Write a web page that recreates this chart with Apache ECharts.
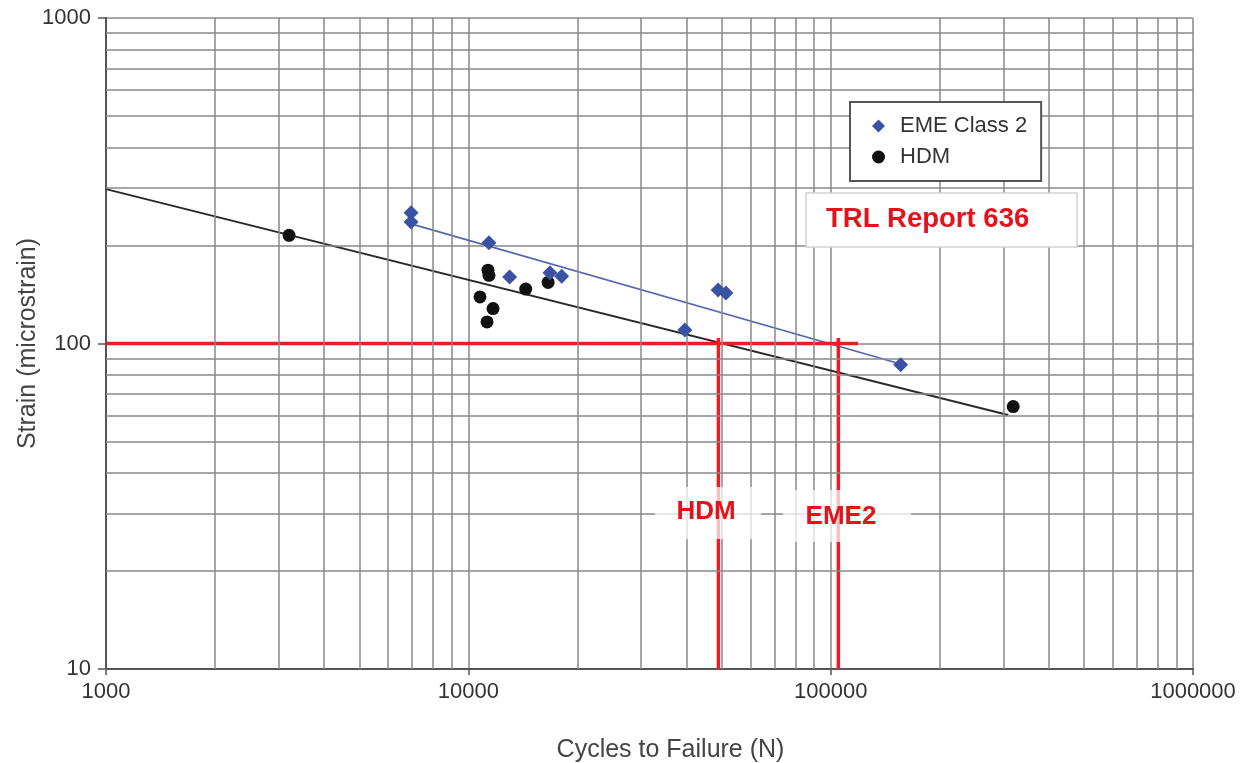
<!DOCTYPE html>
<html>
<head>
<meta charset="utf-8">
<title>Strain vs Cycles to Failure</title>
<script src="https://cdn.jsdelivr.net/npm/echarts@6/dist/echarts.min.js"></script>
<style>
  html, body { margin: 0; padding: 0; background: #fff; }
  #chart { width: 1254px; height: 763px; }
</style>
</head>
<body>
<div id="chart"></div>
<script>
// Fatigue test results: cycles to failure (N) against tensile strain (microstrain)
const emeClass2 = [
  [6950, 252], [6950, 236], [11400, 204], [13000, 160], [16800, 165],
  [18100, 161], [48900, 146], [51400, 143], [39600, 110], [156000, 86]
];
const hdm = [
  [3200, 215], [11330, 168], [11400, 162], [10770, 139], [11700, 128],
  [11260, 116.5], [14400, 147], [16600, 154], [319000, 64]
];

// Fitted fatigue lines
const hdmFit = [[1000, 298], [309000, 60.3]];
const emeFit = [[6950, 233], [156000, 86.5]];

// Design strain of 100 microstrain and the corresponding lives
const designStrain = [[1000, 100], [119000, 100]];
const hdmLife = [[49000, 10], [49000, 104]];
const eme2Life = [[105000, 10], [105000, 104]];

// Minor log gridlines
const xMinor = [2000, 3000, 4000, 5000, 6000, 7000, 8000, 9000,
  20000, 30000, 40000, 50000, 60000, 70000, 80000, 90000,
  200000, 300000, 400000, 500000, 600000, 700000, 800000, 900000];
const yMinor = [20, 30, 40, 50, 60, 70, 80, 90, 200, 300, 400, 500, 600, 700, 800, 900];

const FONT = "'Liberation Sans', Arial, sans-serif";
const GRID_COLOR = '#888888';
const RED = '#ec1c24';

const chart = echarts.init(document.getElementById('chart'), null, { renderer: 'canvas' });

const gridLineStyle = { color: GRID_COLOR, width: 1.5, type: 'solid' };

const option = {
  animation: false,
  backgroundColor: '#ffffff',
  textStyle: { fontFamily: FONT },
  grid: { left: 106, right: 61, top: 18, bottom: 94, outerBoundsMode: 'none', containLabel: false },
  legend: {
    data: [
      { name: 'EME Class 2', icon: 'diamond' },
      { name: 'HDM', icon: 'circle' }
    ],
    orient: 'vertical',
    left: 850,
    top: 102,
    itemWidth: 13,
    itemHeight: 13,
    itemGap: 9,
    padding: [13, 14, 13, 22],
    backgroundColor: '#ffffff',
    borderColor: '#555555',
    borderWidth: 2,
    borderRadius: 0,
    selectedMode: false,
    textStyle: {
      fontFamily: FONT,
      fontSize: 22,
      color: '#333333',
      lineHeight: 22,
      padding: [0, 0, 0, 10]
    },
    z: 20
  },
  xAxis: {
    type: 'log',
    logBase: 10,
    min: 1000,
    max: 1000000,
    name: 'Cycles to Failure (N)',
    nameLocation: 'middle',
    nameGap: 69,
    nameMoveOverlap: false,
    nameTextStyle: { fontFamily: FONT, fontSize: 25, color: '#444444', padding: [0, 0, 0, 42] },
    axisLine: { show: true, onZero: false, lineStyle: { color: '#555555', width: 2 } },
    axisTick: { show: true, length: 6, lineStyle: { color: '#555555', width: 1.5 } },
    axisLabel: {
      fontFamily: FONT, fontSize: 22, color: '#333333', margin: 12,
      formatter: v => String(Math.round(v))
    },
    splitLine: { show: true, lineStyle: gridLineStyle }
  },
  yAxis: {
    type: 'log',
    logBase: 10,
    min: 10,
    max: 1000,
    name: 'Strain (microstrain)',
    nameLocation: 'middle',
    nameGap: 65,
    nameMoveOverlap: false,
    nameTextStyle: { fontFamily: FONT, fontSize: 25, color: '#444444' },
    axisLine: { show: true, onZero: false, lineStyle: { color: '#555555', width: 2 } },
    axisTick: { show: true, length: 8, lineStyle: { color: '#555555', width: 1.5 } },
    axisLabel: {
      fontFamily: FONT, fontSize: 22, color: '#333333', margin: 15,
      formatter: v => String(Math.round(v))
    },
    splitLine: { show: true, lineStyle: gridLineStyle }
  },
  series: [
    {
      name: 'minor-grid',
      type: 'line',
      data: [],
      silent: true,
      z: 1,
      markLine: {
        silent: true,
        symbol: ['none', 'none'],
        label: { show: false },
        lineStyle: gridLineStyle,
        emphasis: { disabled: true },
        data: xMinor.map(v => ({ xAxis: v })).concat(yMinor.map(v => ({ yAxis: v })))
      }
    },
    {
      name: 'HDM fit',
      type: 'line',
      data: hdmFit,
      symbol: 'none',
      silent: true,
      z: 3,
      lineStyle: { color: '#2a2a2a', width: 2 }
    },
    {
      name: 'EME fit',
      type: 'line',
      data: emeFit,
      symbol: 'none',
      silent: true,
      z: 3,
      lineStyle: { color: '#5468b0', width: 1.8 }
    },
    {
      name: 'design strain',
      type: 'line',
      data: designStrain,
      symbol: 'none',
      silent: true,
      z: 4,
      lineStyle: { color: RED, width: 3.5 }
    },
    {
      name: 'HDM life',
      type: 'line',
      data: hdmLife,
      symbol: 'none',
      silent: true,
      z: 4,
      lineStyle: { color: RED, width: 3.5 }
    },
    {
      name: 'EME2 life',
      type: 'line',
      data: eme2Life,
      symbol: 'none',
      silent: true,
      z: 4,
      lineStyle: { color: RED, width: 3.5 }
    },
    {
      name: 'HDM',
      type: 'scatter',
      data: hdm,
      symbol: 'circle',
      symbolSize: 13,
      z: 5,
      itemStyle: { color: '#111111', opacity: 1 }
    },
    {
      name: 'EME Class 2',
      type: 'scatter',
      data: emeClass2,
      symbol: 'diamond',
      symbolSize: 15,
      z: 6,
      itemStyle: { color: '#3a52a3', opacity: 1 }
    }
  ],
  graphic: [
    {
      type: 'rect',
      z: 30,
      shape: { x: 806, y: 193, width: 271, height: 54 },
      style: { fill: '#ffffff', stroke: '#d2d2d2', lineWidth: 1.5 }
    },
    {
      type: 'text',
      z: 31,
      left: 826,
      top: 205,
      style: {
        text: 'TRL Report 636',
        fill: '#e3131b',
        font: "bold 27.5px 'Liberation Sans', Arial, sans-serif"
      }
    },
    {
      type: 'rect',
      z: 30,
      shape: { x: 655, y: 487, width: 106, height: 52 },
      style: { fill: 'rgba(255,255,255,0.72)' }
    },
    {
      type: 'rect',
      z: 30,
      shape: { x: 783, y: 490, width: 128, height: 52 },
      style: { fill: 'rgba(255,255,255,0.72)' }
    },
    {
      type: 'text',
      z: 31,
      style: {
        x: 706, y: 512,
        text: 'HDM',
        fill: '#e3131b',
        align: 'center',
        verticalAlign: 'middle',
        font: "bold 26px 'Liberation Sans', Arial, sans-serif"
      }
    },
    {
      type: 'text',
      z: 31,
      style: {
        x: 841, y: 517,
        text: 'EME2',
        fill: '#e3131b',
        align: 'center',
        verticalAlign: 'middle',
        font: "bold 26px 'Liberation Sans', Arial, sans-serif"
      }
    }
  ]
};

chart.setOption(option);
</script>
</body>
</html>
